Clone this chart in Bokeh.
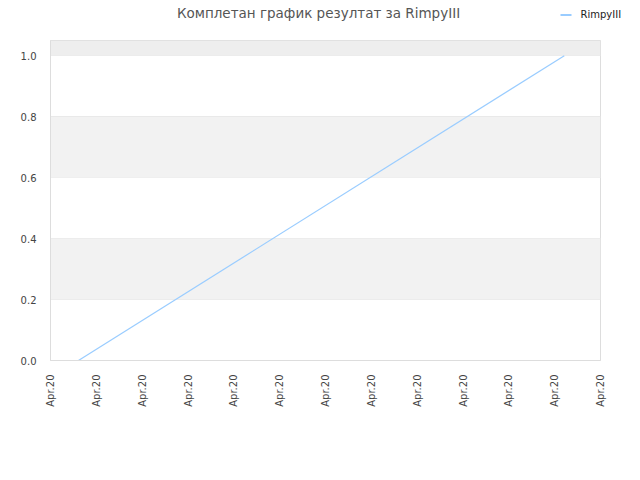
import math
from bokeh.plotting import figure
from bokeh.layouts import column, row
from bokeh.models import BoxAnnotation, FixedTicker, PrintfTickFormatter, Range1d
from bokeh.core.properties import value
from bokeh.embed import file_html
from bokeh.resources import INLINE

title_text = "Комплетан график резултат за RimpyIII"
series_name = "RimpyIII"
x_ticks = list(range(13))
x_labels = ["Apr.20"] * 13
x_values = [0.61, 11.21]
y_values = [0.0, 1.0]
y_ticks = [0.0, 0.2, 0.4, 0.6, 0.8, 1.0]
y_max = 1.05
line_color = "#99ccff"

# header: title and legend (pixel-like coordinate space, y downwards)
h = figure(width=624, height=40, output_backend="svg", toolbar_location=None,
           x_range=Range1d(0, 624), y_range=Range1d(40, 0),
           min_border_left=0, min_border_right=0, min_border_top=0, min_border_bottom=0)
h.axis.visible = False
h.grid.visible = False
h.outline_line_color = None
h.text(x=[318], y=[12], text=[title_text], text_font=value("DejaVu Sans"),
       text_font_size="13.5px", text_color="#555555", text_align="center", text_baseline="middle")
h.line(x=[560, 571], y=[14.5, 14.5], line_color=line_color, line_width=2)
h.text(x=[580], y=[14], text=[series_name], text_font=value("DejaVu Sans"),
       text_font_size="10px", text_color="#222222", text_align="left", text_baseline="middle")

p = figure(width=624, height=424, output_backend="svg", toolbar_location=None,
           x_range=(0, 12), y_range=(0, y_max),
           min_border_left=50, min_border_right=24, min_border_top=0, min_border_bottom=104)

for lo, hi in [(y_ticks[1], y_ticks[2]), (y_ticks[3], y_ticks[4])]:
    p.add_layout(BoxAnnotation(bottom=lo, top=hi, fill_color="#f2f2f2", fill_alpha=1, line_color=None, level="underlay"))
p.add_layout(BoxAnnotation(bottom=y_ticks[-1], top=y_max, fill_color="#eeeeee", fill_alpha=1, line_color=None, level="underlay"))

p.line(x_values, y_values, line_color=line_color, line_width=1.2)

p.xaxis.ticker = FixedTicker(ticks=x_ticks)
p.xaxis.major_label_overrides = {t: l for t, l in zip(x_ticks, x_labels)}
p.xaxis.major_label_orientation = math.pi / 2
p.yaxis.ticker = FixedTicker(ticks=y_ticks)
p.yaxis.formatter = PrintfTickFormatter(format="%.1f")

for ax in (p.xaxis, p.yaxis):
    ax.major_tick_line_color = None
    ax.minor_tick_line_color = None
    ax.axis_line_color = "#dddddd"
    ax.major_label_text_font = "DejaVu Sans"
    ax.major_label_text_font_size = "10px"
    ax.major_label_text_color = "#444444"
    ax.major_label_standoff = 8

p.xgrid.grid_line_color = None
p.ygrid.grid_line_color = "#e6e6e6"
p.outline_line_color = "#dddddd"
p.background_fill_color = "white"
p.border_fill_color = "white"

layout = column(row(h), p, spacing=0)
open("out.html", "w").write(file_html(layout, INLINE))
